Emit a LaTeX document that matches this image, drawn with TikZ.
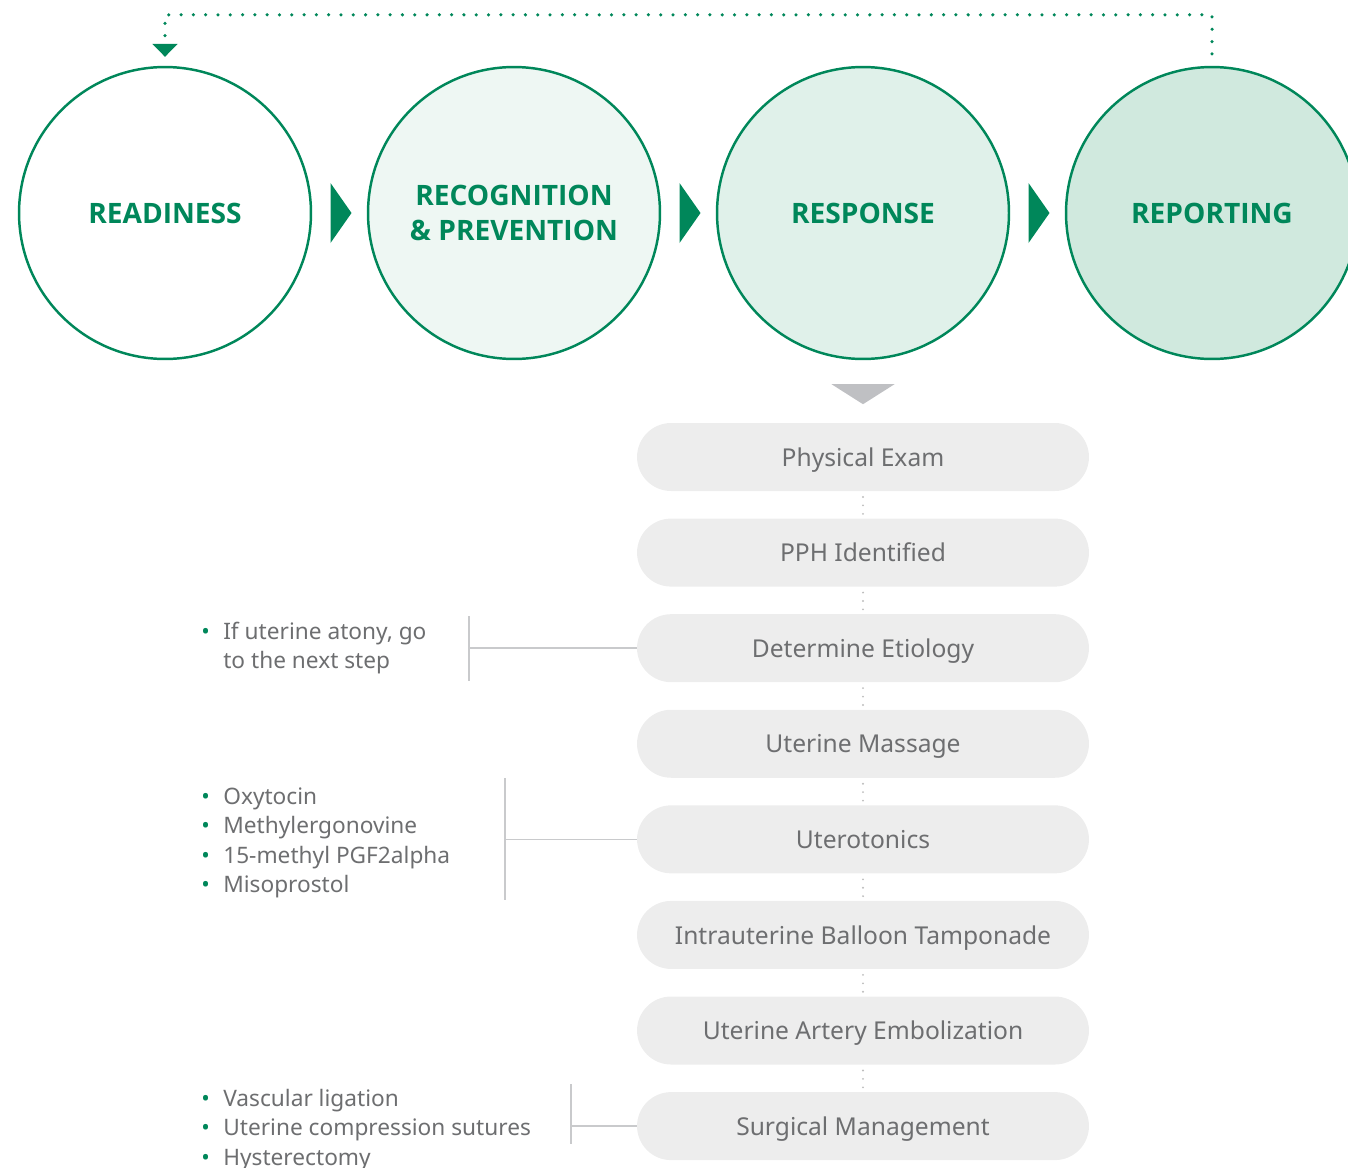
\documentclass[tikz,border=0pt]{standalone}
\usepackage{fontspec}
\setmainfont{Noto Sans}
\newfontfamily\headfont{Open Sans}
\usetikzlibrary{positioning,calc,arrows.meta}

\definecolor{brandgreen}{HTML}{00875A}
\definecolor{fillone}{HTML}{EEF7F3}
\definecolor{filltwo}{HTML}{E0F1EA}
\definecolor{fillthree}{HTML}{D0E9DE}
\definecolor{pillgray}{HTML}{EDEDED}
\definecolor{textgray}{HTML}{6D6E70}
\definecolor{linegray}{HTML}{C9CACC}
\definecolor{dotgray}{HTML}{BDBDBD}
\definecolor{arrowgray}{HTML}{BFC0C3}

\newcommand{\bitem}{\makebox[12.5pt][l]{\textcolor{brandgreen}{\textbullet}}}
\newcommand{\nobitem}{\hspace*{12.5pt}}

\tikzset{
  stage/.style={circle, draw=brandgreen, line width=1.4pt, minimum size=5.84cm,
    inner sep=0pt, text=brandgreen, align=center,
    font=\headfont\fontsize{16}{20.4}\selectfont\bfseries},
  stepbox/.style={rectangle, rounded corners=0.68cm, fill=pillgray,
    minimum width=9.04cm, minimum height=1.36cm, text=textgray,
    text height=10.4pt, text depth=0pt,
    font=\fontsize{14}{16}\selectfont},
  stepdots/.style={draw=dotgray, line width=1.2pt, line cap=round,
    dash pattern=on 0pt off 4.8pt, shorten <=3.2pt, shorten >=2pt},
  loopdots/.style={draw=brandgreen, line width=2pt, line cap=round,
    dash pattern=on 0pt off 7pt},
  sidenote/.style={inner sep=0pt, align=left, text=textgray,
    font=\fontsize{12.9}{16.7}\selectfont},
  bracket/.style={draw=linegray, line width=0.8pt}
}

\begin{document}
\begin{tikzpicture}[x=0.02cm, y=-0.02cm]
  \useasboundingbox (0,0) rectangle (1348,1167);

  % the four stages
  \node[stage] (readiness) at (165,213) {READINESS};
  \node[stage, fill=fillone] (recognition) at (514,213) {RECOGNITION\\\& PREVENTION};
  \node[stage, fill=filltwo] (response) at (863,213) {RESPONSE};
  \node[stage, fill=fillthree] (reporting) at (1212,213) {REPORTING};

  % arrows between stages
  \fill[brandgreen] ($(readiness.east)!0.5!(recognition.west)$) ++(-9,-30) -- ++(21,30) -- ++(-21,30) -- cycle;
  \fill[brandgreen] ($(recognition.east)!0.5!(response.west)$) ++(-9,-30) -- ++(21,30) -- ++(-21,30) -- cycle;
  \fill[brandgreen] ($(response.east)!0.5!(reporting.west)$) ++(-9,-30) -- ++(21,30) -- ++(-21,30) -- cycle;

  % loop back to readiness
  \draw[loopdots, shorten <=6.8pt, shorten >=5.1pt, -{Triangle[width=14pt,length=7.4pt]}]
    (reporting.north) -- ++(0,-51) -| (readiness.north);

  % down arrow to the steps
  \fill[arrowgray] ($(response.south)+(-31.5,24)$) -- ++(63,0) -- ++(-31.5,20) -- cycle;

  % response steps
  \node[stepbox] (exam) at (863,457) {Physical Exam};
  \node[stepbox, below=0.538cm of exam] (pph) {PPH Identified};
  \node[stepbox, below=0.538cm of pph] (etiology) {Determine Etiology};
  \node[stepbox, below=0.538cm of etiology] (massage) {Uterine Massage};
  \node[stepbox, below=0.538cm of massage] (uterotonics) {Uterotonics};
  \node[stepbox, below=0.538cm of uterotonics] (balloon) {Intrauterine Balloon Tamponade};
  \node[stepbox, below=0.538cm of balloon] (embolization) {Uterine Artery Embolization};
  \node[stepbox, below=0.538cm of embolization] (surgical) {Surgical Management};

  \draw[stepdots] (exam.south) -- (pph.north);
  \draw[stepdots] (pph.south) -- (etiology.north);
  \draw[stepdots] (etiology.south) -- (massage.north);
  \draw[stepdots] (massage.south) -- (uterotonics.north);
  \draw[stepdots] (uterotonics.south) -- (balloon.north);
  \draw[stepdots] (balloon.south) -- (embolization.north);
  \draw[stepdots] (embolization.south) -- (surgical.north);

  % side notes
  \node[sidenote, anchor=west] (atonynote) at (201,648)
    {\bitem If uterine atony, go\\\nobitem to the next step};
  \node[sidenote, anchor=west] (drugnote) at (201,843)
    {\bitem Oxytocin\\\bitem Methylergonovine\\\bitem 15-methyl PGF2alpha\\\bitem Misoprostol};
  \node[sidenote, anchor=west] (surgerynote) at (201,1130)
    {\bitem Vascular ligation\\\bitem Uterine compression sutures\\\bitem Hysterectomy};

  \coordinate (atonybr) at (469,0 |- etiology.west);
  \coordinate (drugbr) at (505,0 |- uterotonics.west);
  \coordinate (surgerybr) at (571,0 |- surgical.west);

  \draw[bracket] (atonybr) ++(0,-32) -- ++(0,65);
  \draw[bracket] (atonybr) -- (etiology.west);
  \draw[bracket] (drugbr) ++(0,-61) -- ++(0,122);
  \draw[bracket] (drugbr) -- (uterotonics.west);
  \draw[bracket] (surgerybr) ++(0,-42) -- ++(0,60);
  \draw[bracket] (surgerybr) -- (surgical.west);
\end{tikzpicture}
\end{document}
